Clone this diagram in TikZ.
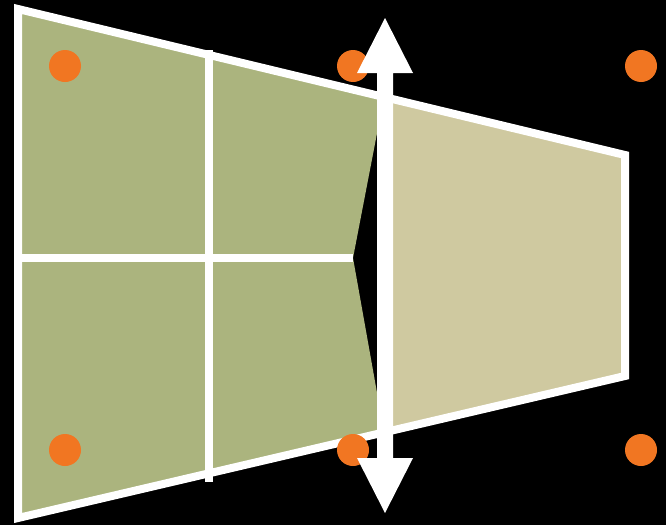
\documentclass[tikz,border=0pt]{standalone}
\usepackage{xcolor}
\usetikzlibrary{calc}

\definecolor{panelgreen}{RGB}{171,180,126}
\definecolor{paneltan}{RGB}{207,201,160}
\definecolor{markorange}{RGB}{241,118,34}

\begin{document}
\begin{tikzpicture}[
  x=1pt, y=-1pt,
  outline/.style={draw=white, line width=8pt, line join=miter},
  divider/.style={draw=white, line width=8.5pt},
  marker/.style={fill=markorange},
  stretch/.style={fill=white},
]
  % ===== Background =====
  \fill[black] (0,0) rectangle (666,525);
  \useasboundingbox (0,0) rectangle (666,525);

  % ===== Panels =====
  \fill[panelgreen] (18,9) -- (384,97) -- (353,258) -- (384,432)
                    -- (18,518) -- cycle;
  \fill[paneltan] (385,97.3) -- (625,155) -- (625,376) -- (385,432.2) -- cycle;

  % ===== Outline and dividers =====
  \draw[outline] (18,9) -- (625,155) -- (625,376) -- (18,518) -- cycle;
  \draw[divider] (209,50) -- (209,482);
  \draw[divider] (18,258) -- (353,258);

  % ===== Orange markers =====
  \foreach \mx in {65,353,641}
    \foreach \my in {66,450}
      \fill[marker] (\mx,\my) circle (16);

  % ===== Double arrow =====
  \fill[stretch] (385,18) -- (413,73) -- (393,73) -- (393,458) -- (413,458)
                 -- (385,513) -- (357,458) -- (377,458) -- (377,73)
                 -- (357,73) -- cycle;
\end{tikzpicture}
\end{document}
